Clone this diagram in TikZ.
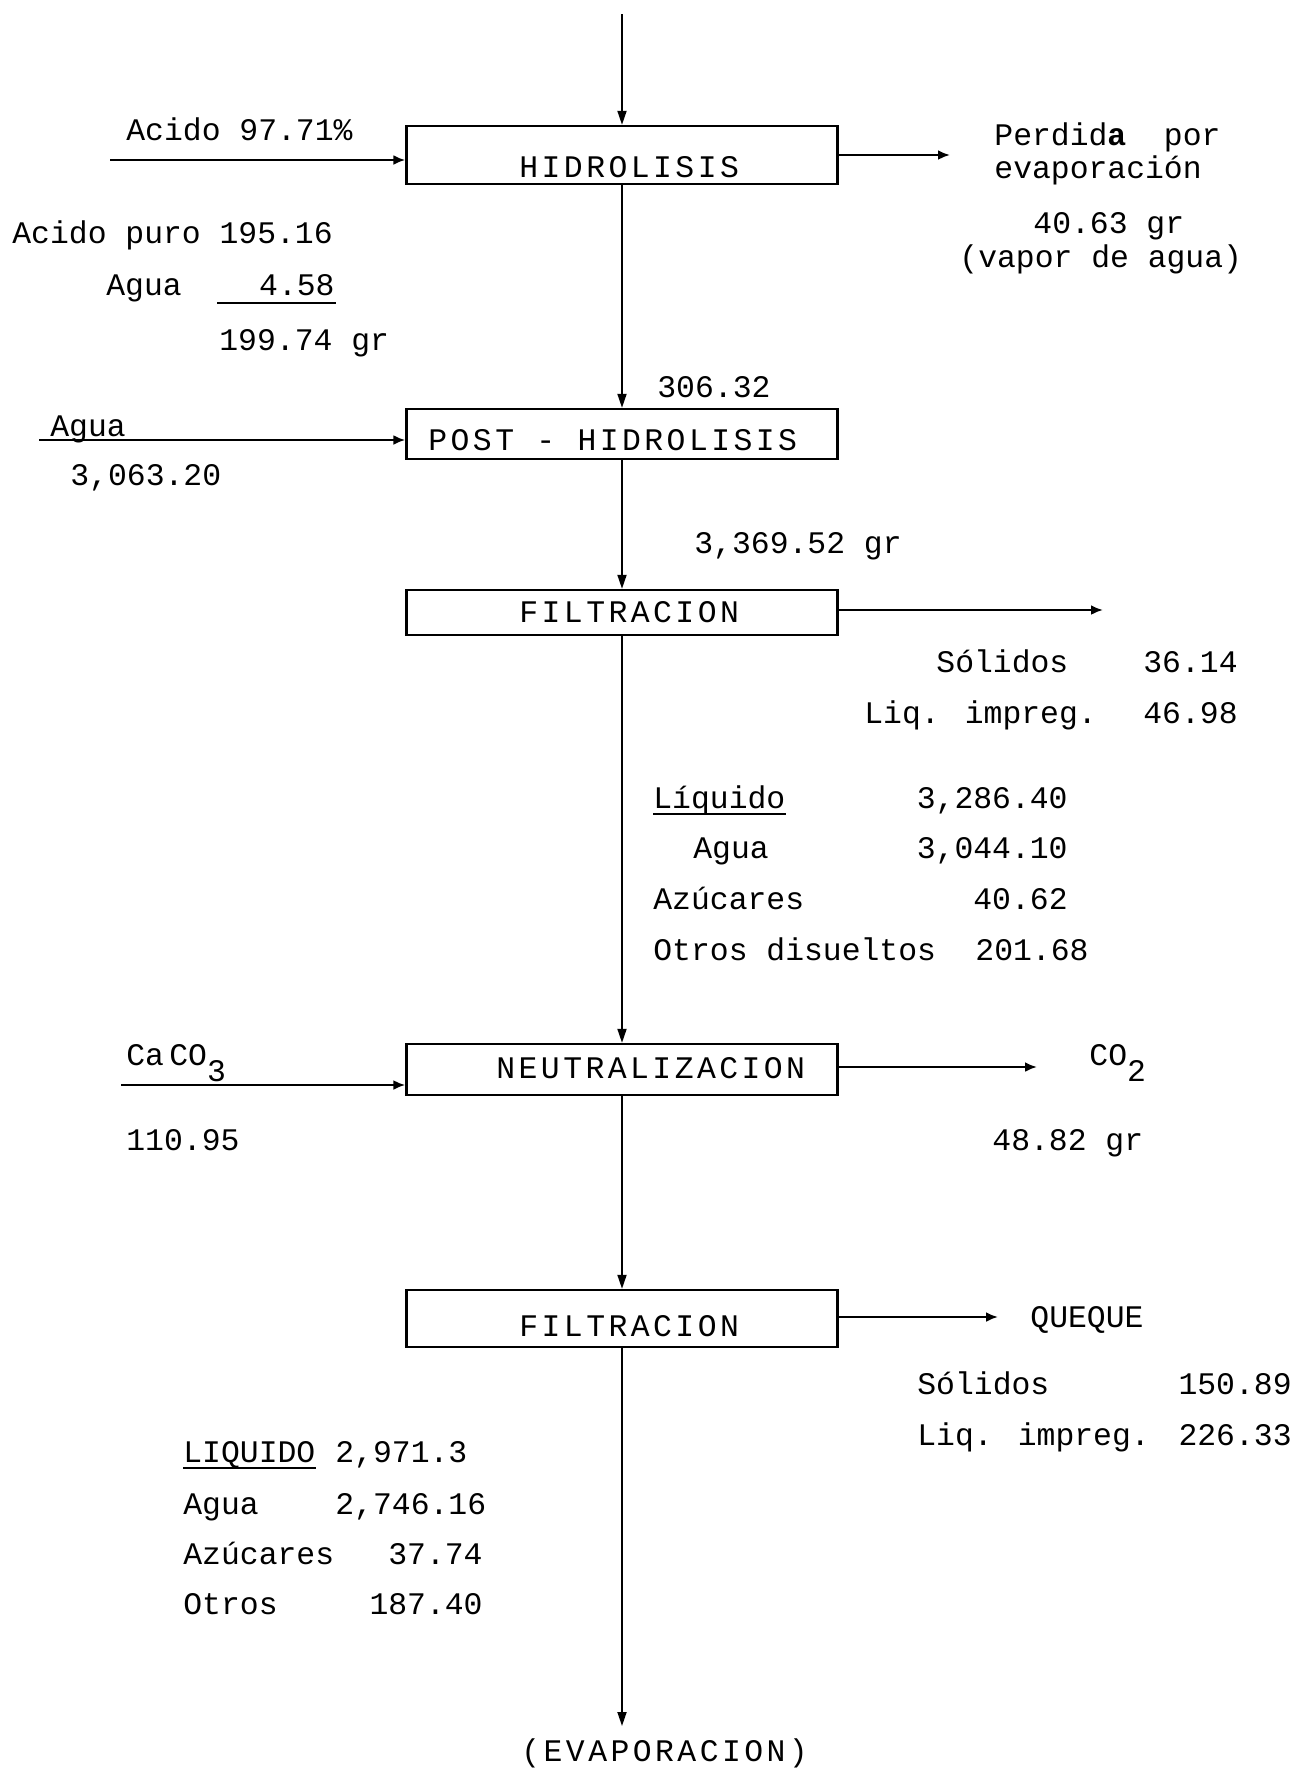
\documentclass[tikz,border=0pt]{standalone}
\usepackage{fontspec}
\setmainfont{Liberation Mono}
\newfontfamily\spacedfont[LetterSpace=11]{Liberation Mono}
\usetikzlibrary{arrows.meta}

\begin{document}
\begin{tikzpicture}[x=0.5pt,y=-0.5pt,
  every node/.style={inner sep=0pt, font=\fontsize{15.7}{18}\selectfont},
  txt/.style={anchor=base west},
  rtxt/.style={anchor=base east},
  unitbox/.style={draw, line width=1.2pt, minimum width=215.5pt},
  unitname/.style={anchor=base west, font=\fontsize{15.7}{18}\spacedfont},
  flow/.style={line width=0.9pt, -{Triangle[length=7pt,width=4.5pt]}},
  feed/.style={line width=1.3pt, -{Latex[length=6pt,width=5pt]}},
  uline/.style={line width=1.1pt},
]
\useasboundingbox (0,0) rectangle (1296,1789);

% process units
\node[unitbox, minimum height=29pt]   (hid)   at (622,155)  {};
\node[unitbox, minimum height=25pt]   (post)  at (622,434)  {};
\node[unitbox, minimum height=22.5pt] (filA)  at (622,612.5){};
\node[unitbox, minimum height=25.5pt] (neut)  at (622,1069.5){};
\node[unitbox, minimum height=28.5pt] (filB)  at (622,1318.5){};

\node[unitname] (hidT)  at (519,177)  {HIDROLISIS};
\node[unitname] (postT) at (428,450)  {POST - HIDROLISIS};
\node[unitname] (filAT) at (519,622)  {FILTRACION};
\node[unitname] (neutT) at (496,1078) {NEUTRALIZACION};
\node[unitname] (filBT) at (519,1336) {FILTRACION};

% main line
\coordinate (top) at (622,14);
\coordinate (bot) at (622,1726);
\draw[flow] (top) -- (hid.north);
\draw[flow] (hid.south) -- (post.north);
\draw[flow] (post.south) -- (filA.north);
\draw[flow] (filA.south) -- (neut.north);
\draw[flow] (neut.south) -- (filB.north);
\draw[flow] (filB.south) -- (bot);
\node[unitname] (evap) at (521,1761) {(EVAPORACION)};

% hidrolisis streams
\coordinate (acIn) at (110,160);
\draw[feed] (acIn) -- (acIn -| hid.west);
\node[txt] (ac) at (126,140) {Acido 97.71\%};
\coordinate (vapOut) at (950,155);
\draw[feed] (vapOut -| hid.east) -- (vapOut);
\node[txt] (per1) at (994,145) {Perdid{\bfseries a}\ \ por};
\node[txt] (per2) at (994,178) {evaporación};
\node[txt] (per3) at (1033,233) {40.63 gr};
\node[txt] (per4) at (959,267) {(vapor de agua)};

\node[txt] (acp) at (12,243) {Acido puro 195.16};
\node[txt] (ag1) at (106,295) {Agua};
\node[rtxt] (ag1v) at (335,295) {4.58};
\draw[uline] (217,303) -- (336,303);
\node[txt] (tot1) at (219,350) {199.74 gr};
\node[txt] (s1) at (657,397) {306.32};

% post-hidrolisis streams
\coordinate (agIn) at (39,440);
\draw[feed] (agIn) -- (agIn -| post.west);
\node[txt] (ag2) at (50,436) {Agua};
\node[txt] (ag2v) at (70,485) {3,063.20};
\node[txt] (s2) at (694,553) {3,369.52 gr};

% first filtration
\coordinate (fAOut) at (1103,610);
\draw[feed] (fAOut -| filA.east) -- (fAOut);
\node[txt] (solA) at (936,672) {Sólidos};
\node[rtxt] (solAv) at (1238,672) {36.14};
\node[txt] (liqA) at (864,723) {Liq. impreg.};
\node[rtxt] (liqAv) at (1238,723) {46.98};

\node[txt] (lq) at (653,808) {Líquido};
\draw[uline] ([yshift=-3pt]lq.base west) -- ([yshift=-3pt]lq.base east);
\node[rtxt] (lqv) at (1068,808) {3,286.40};
\node[txt] (lq1) at (693,858) {Agua};
\node[rtxt] (lq1v) at (1068,858) {3,044.10};
\node[txt] (lq2) at (653,909) {Azúcares};
\node[rtxt] (lq2v) at (1068,909) {40.62};
\node[txt] (lq3) at (653,960) {Otros disueltos};
\node[txt] (lq3v) at (975,960) {201.68};

% neutralizacion streams
\coordinate (caIn) at (121,1085);
\draw[feed] (caIn) -- (caIn -| neut.west);
\node[txt] (ca) at (126,1065) {Ca\,CO\raisebox{-8pt}{3}};
\node[txt] (cav) at (126,1150) {110.95};
\coordinate (coOut) at (1037,1067);
\draw[feed] (coOut -| neut.east) -- (coOut);
\node[txt] (co) at (1089,1065) {CO\raisebox{-8pt}{2}};
\node[txt] (cov) at (992,1150) {48.82 gr};

% second filtration
\coordinate (fBOut) at (998,1317);
\draw[feed] (fBOut -| filB.east) -- (fBOut);
\node[txt] (qq) at (1030,1327) {QUEQUE};
\node[txt] (solB) at (917,1394) {Sólidos};
\node[rtxt] (solBv) at (1292,1394) {150.89};
\node[txt] (liqB) at (917,1445) {Liq. impreg.};
\node[rtxt] (liqBv) at (1292,1445) {226.33};

\node[txt] (lb) at (183,1462) {LIQUIDO};
\draw[uline] ([yshift=-3pt]lb.base west) -- ([yshift=-3pt]lb.base east);
\node[txt] (lbv) at (335,1462) {2,971.3};
\node[txt] (lb1) at (183,1514) {Agua};
\node[txt] (lb1v) at (335,1514) {2,746.16};
\node[txt] (lb2) at (183,1564) {Azúcares};
\node[rtxt] (lb2v) at (483,1564) {37.74};
\node[txt] (lb3) at (183,1614) {Otros};
\node[rtxt] (lb3v) at (483,1614) {187.40};
\end{tikzpicture}
\end{document}
